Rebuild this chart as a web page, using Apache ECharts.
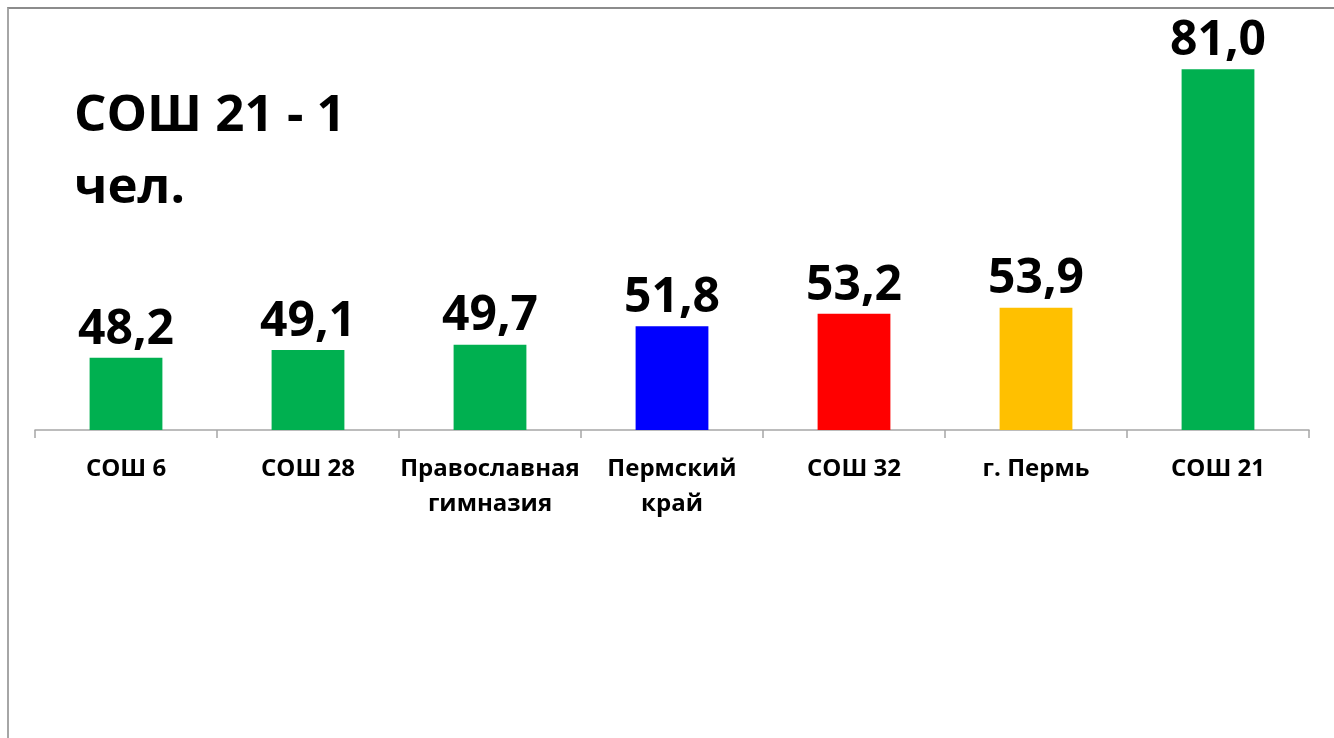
<!DOCTYPE html>
<html>
<head>
<meta charset="utf-8">
<script src="https://cdn.jsdelivr.net/npm/echarts@6/dist/echarts.min.js"></script>
<style>
	html, body { margin: 0; padding: 0; background: #fff; overflow: hidden; }
	#frame { position: absolute; left: 7px; top: 7px; width: 1400px; height: 800px; border-left: 2px solid #a6a6a6; border-top: 2px solid #8c8c8c; }
	#container { position: absolute; left: 0; top: 0; width: 1334px; height: 738px; }
</style>
</head>
<body>
<div id="frame"></div>
<div id="container"></div>
<script>
// категории и значения
var categories = ['СОШ 6', 'СОШ 28', 'Православная\nгимназия', 'Пермский\nкрай', 'СОШ 32', 'г. Пермь', 'СОШ 21'];
var values = [48.2, 49.1, 49.7, 51.8, 53.2, 53.9, 81.0];
var barColors = ['#00b050', '#00b050', '#00b050', '#0000ff', '#ff0000', '#ffc000', '#00b050'];
var note = 'СОШ 21 - 1\nчел.';

function init(){
	var dom = document.getElementById("container");
	var myChart = echarts.init(dom);
	var seriesData = [];
	for (var i = 0; i < values.length; i++) {
		seriesData.push({ value: values[i], itemStyle: { color: barColors[i] } });
	}
	var option = {
		animation: false,
		title: {
			text: note,
			left: 69,
			top: 75,
			textStyle: { fontFamily: 'Open Sans', fontWeight: 'bold', fontSize: 51, lineHeight: 72, color: '#000' }
		},
		grid: { left: 35, right: 25, top: 34, bottom: 308 },
		xAxis: {
			type: 'category',
			data: categories,
			axisLine: { lineStyle: { color: '#a6a6a6', width: 1.5 } },
			axisTick: { show: true, length: 8, lineStyle: { color: '#a6a6a6', width: 1.5 } },
			axisLabel: {
				interval: 0,
				margin: 22,
				fontFamily: 'Open Sans',
				fontWeight: 'bold',
				fontSize: 24,
				lineHeight: 35,
				color: '#000'
			}
		},
		yAxis: {
			type: 'value',
			min: 40,
			max: 85,
			show: false
		},
		series: [{
			type: 'bar',
			barWidth: '40%',
			data: seriesData,
			label: {
				show: true,
				position: 'top',
				distance: 4,
				fontFamily: 'Open Sans',
				fontWeight: 'bold',
				fontSize: 48,
				color: '#000',
				formatter: function (p) { return p.value.toFixed(1).replace('.', ','); }
			}
		}]
	};
	myChart.setOption(option, true);
}
init();
</script>
</body>
</html>
